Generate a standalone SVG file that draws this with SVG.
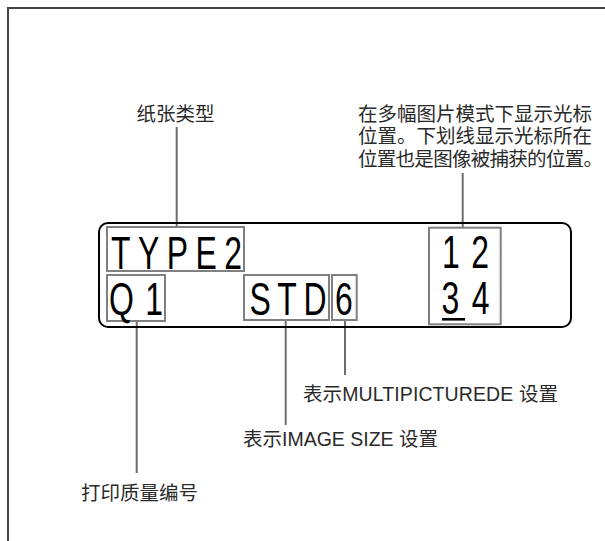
<svg xmlns="http://www.w3.org/2000/svg" width="605" height="541" viewBox="0 0 605 541">
<style>
.lbl{font-family:"Liberation Sans","Noto Sans CJK SC",sans-serif;font-size:19.5px;fill:#2a2a2a}
.big{font-family:"Liberation Sans",sans-serif;font-size:47px;fill:#000}
.box{fill:none;stroke:#808080;stroke-width:2}
.lead{stroke:#6e6e6e;stroke-width:2;fill:none}
</style>
<rect width="605" height="541" fill="#fff"/>
<path d="M8 541V8H605" fill="none" stroke="#444" stroke-width="2"/>
<g id="connectors">
<line class="lead" x1="176.7" y1="127" x2="176.7" y2="227"/>
<line class="lead" x1="462.7" y1="173" x2="462.7" y2="228"/>
<line class="lead" x1="136.7" y1="321" x2="136.7" y2="473"/>
<line class="lead" x1="285.7" y1="320" x2="285.7" y2="425"/>
<line class="lead" x1="345" y1="320" x2="345" y2="375"/>
</g>
<g id="display">
<rect x="99" y="223" width="472" height="104" rx="9" fill="none" stroke="#000" stroke-width="2"/>
</g>
<g id="type2">
<rect class="box" x="107" y="227" width="137" height="44"/>
<g transform="scale(0.68,1)"><text class="big" x="163.2" y="269" textLength="192.6" lengthAdjust="spacing">TYPE2</text></g>
</g>
<g id="q1">
<rect class="box" x="107" y="275" width="58" height="46"/>
<g transform="scale(0.68,1)"><text class="big" x="160.3" y="315" textLength="79.4" lengthAdjust="spacing">Q1</text></g>
</g>
<g id="std">
<rect class="box" x="244" y="275" width="85" height="45"/>
<g transform="scale(0.68,1)"><text class="big" x="366.9" y="315.5" textLength="113.2" lengthAdjust="spacing">STD</text></g>
</g>
<g id="six">
<rect class="box" x="332" y="275" width="24.7" height="45"/>
<g transform="scale(0.68,1)"><text class="big" x="492.6" y="315.5">6</text></g>
</g>
<g id="pics">
<rect class="box" x="429" y="227.7" width="71.7" height="96.6"/>
<g transform="scale(0.68,1)"><text class="big" x="650" y="268" textLength="69.1" lengthAdjust="spacing">12</text>
<text class="big" x="649.3" y="314" textLength="70.6" lengthAdjust="spacing">34</text></g>
<rect x="442" y="318" width="23" height="2.6" fill="#000"/>
</g>
<g id="label-paper"><text class="lbl" x="136.5" y="120.5">纸张类型</text></g>
<g id="label-cursor">
<text class="lbl" x="358" y="120.5">在多幅图片模式下显示光标</text>
<text class="lbl" x="358" y="143">位置。下划线显示光标所在</text>
<text class="lbl" x="358" y="166" textLength="245" lengthAdjust="spacing">位置也是图像被捕获的位置。</text>
</g>
<g id="label-multi"><text class="lbl" x="303" y="400.5" textLength="255" lengthAdjust="spacing">表示MULTIPICTUREDE 设置</text></g>
<g id="label-size"><text class="lbl" x="243" y="446">表示IMAGE SIZE 设置</text></g>
<g id="label-quality"><text class="lbl" x="81" y="500">打印质量编号</text></g>
</svg>
